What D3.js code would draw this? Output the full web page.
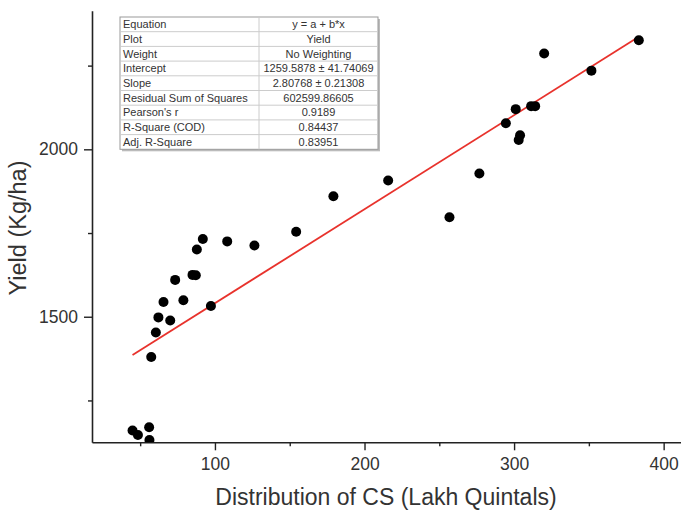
<!DOCTYPE html>
<html>
<head>
<meta charset="utf-8">
<script src="https://cdn.jsdelivr.net/npm/d3@7"></script>
<style>
html,body{margin:0;padding:0;background:#fff;}
svg{display:block;}
text{font-family:"Liberation Sans",Arial,sans-serif;}
</style>
</head>
<body>
<svg id="chart" width="681" height="510"></svg>
<script>
// ---- data ----
const distributionCS = [91.9, 87.9, 108.2, 126.4, 154.3, 73.4, 85.0, 87.2, 65.6, 78.9, 62.2, 70.1, 97.3, 60.5, 57.4, 44.9, 48.5, 56.0, 56.2, 383.4, 320.1, 351.7, 301.1, 311.4, 314.1, 294.5, 304.0, 303.1, 276.8, 256.8, 215.8, 179.2];
const yieldKgHa    = [1732, 1701, 1725, 1713, 1754, 1610, 1625, 1624, 1544, 1549, 1498, 1489, 1532, 1453, 1380, 1160, 1147, 1170, 1132, 2326, 2286, 2235, 2120, 2129, 2129, 2078, 2042, 2028, 1928, 1797, 1907, 1860];
const fitIntercept = 1259.5878;
const fitSlope = 2.80768;
const xMajorTicks = [100, 200, 300, 400];
const xMinorTicks = [50, 150, 250, 350];
const yMajorTicks = [1500, 2000];
const yMinorTicks = [1250, 1750, 2250];
const xDomain = [17.8, 411.6];
const yDomain = [1125, 2414];
const tableLabels = ["Equation", "Plot", "Weight", "Intercept", "Slope", "Residual Sum of Squares", "Pearson's r", "R-Square (COD)", "Adj. R-Square"];
const tableValues = ["y = a + b*x", "Yield", "No Weighting", "1259.5878 \u00b1 41.74069", "2.80768 \u00b1 0.21308", "602599.86605", "0.9189", "0.84437", "0.83951"];
const xTitle = "Distribution of CS (Lakh Quintals)";
const yTitle = "Yield (Kg/ha)";

// ---- layout ----
const svg = d3.select("#chart");
const pLeft = 92, pRight = 681, pTop = 10.7, pBottom = 442.3;
const x = d3.scaleLinear().domain(xDomain).range([pLeft, pRight]);
const y = d3.scaleLinear().domain(yDomain).range([pBottom, pTop]);
const axisColor = "#222";
const fmt = d3.format("d");

// x axis
const gx = svg.append("g").attr("transform", `translate(0,${pBottom})`);
gx.call(d3.axisBottom(x).tickValues(xMajorTicks).tickFormat(fmt).tickSize(8).tickSizeOuter(0).tickPadding(7));
const gxm = svg.append("g").attr("transform", `translate(0,${pBottom})`);
gxm.call(d3.axisBottom(x).tickValues(xMinorTicks).tickSize(4).tickSizeOuter(0).tickFormat(""));
gxm.select(".domain").remove();

// y axis
const gy = svg.append("g").attr("transform", `translate(${pLeft},0)`);
gy.call(d3.axisLeft(y).tickValues(yMajorTicks).tickFormat(fmt).tickSize(8).tickSizeOuter(0).tickPadding(6));
const gym = svg.append("g").attr("transform", `translate(${pLeft},0)`);
gym.call(d3.axisLeft(y).tickValues(yMinorTicks).tickSize(4).tickSizeOuter(0).tickFormat(""));
gym.select(".domain").remove();

svg.selectAll(".domain").attr("stroke", axisColor).attr("stroke-width", 1.6);
svg.selectAll(".tick line").attr("stroke", axisColor).attr("stroke-width", 1.4);
svg.selectAll(".tick text").attr("fill", "#333").style("font-size", "17.5px").style("font-family", "'Liberation Sans',Arial,sans-serif");

// titles
svg.append("text").attr("x", 386).attr("y", 505).attr("text-anchor", "middle")
  .style("font-size", "23px").attr("fill", "#333").text(xTitle);
svg.append("text").attr("transform", `translate(26,228) rotate(-90)`)
  .attr("text-anchor", "middle").style("font-size", "23.5px").attr("fill", "#333").text(yTitle);

// fit line
const xMin = d3.min(distributionCS), xMax = d3.max(distributionCS);
svg.append("line")
  .attr("x1", x(xMin)).attr("y1", y(fitIntercept + fitSlope * xMin))
  .attr("x2", x(xMax)).attr("y2", y(fitIntercept + fitSlope * xMax))
  .attr("stroke", "#e8322c").attr("stroke-width", 1.8);

// points
svg.append("clipPath").attr("id", "plotclip").append("rect")
  .attr("x", pLeft).attr("y", pTop).attr("width", pRight-pLeft).attr("height", pBottom-pTop);
svg.append("g").attr("clip-path", "url(#plotclip)")
  .selectAll("circle").data(distributionCS.map((d,i)=>[d, yieldKgHa[i]])).join("circle")
  .attr("cx", d => x(d[0])).attr("cy", d => y(d[1])).attr("r", 5).attr("fill", "#000");

// stats table
const tx = 120, ty = 17, tw = 258, rowH = 14.7, col1W = 139;
const tg = svg.append("g");
tg.append("rect").attr("x", tx+2).attr("y", ty+2).attr("width", tw).attr("height", rowH*tableLabels.length)
  .attr("fill", "#bbb");
tg.append("rect").attr("x", tx).attr("y", ty).attr("width", tw).attr("height", rowH*tableLabels.length)
  .attr("fill", "#fff").attr("stroke", "#999").attr("stroke-width", 1);
tableLabels.forEach((lab, i) => {
  if (i > 0) tg.append("line").attr("x1", tx).attr("x2", tx+tw).attr("y1", ty+i*rowH).attr("y2", ty+i*rowH)
    .attr("stroke", "#ccc").attr("stroke-width", 1);
  tg.append("text").attr("x", tx+3).attr("y", ty+i*rowH+rowH/2).attr("dy", "0.35em")
    .style("font-size", "11px").attr("fill", "#333").text(lab);
  tg.append("text").attr("x", tx+col1W+(tw-col1W)/2).attr("y", ty+i*rowH+rowH/2).attr("dy", "0.35em")
    .attr("text-anchor", "middle").style("font-size", "11px").attr("fill", "#333").text(tableValues[i]);
});
tg.append("line").attr("x1", tx+col1W).attr("x2", tx+col1W).attr("y1", ty).attr("y2", ty+rowH*tableLabels.length)
  .attr("stroke", "#ccc").attr("stroke-width", 1);
</script>
</body>
</html>
